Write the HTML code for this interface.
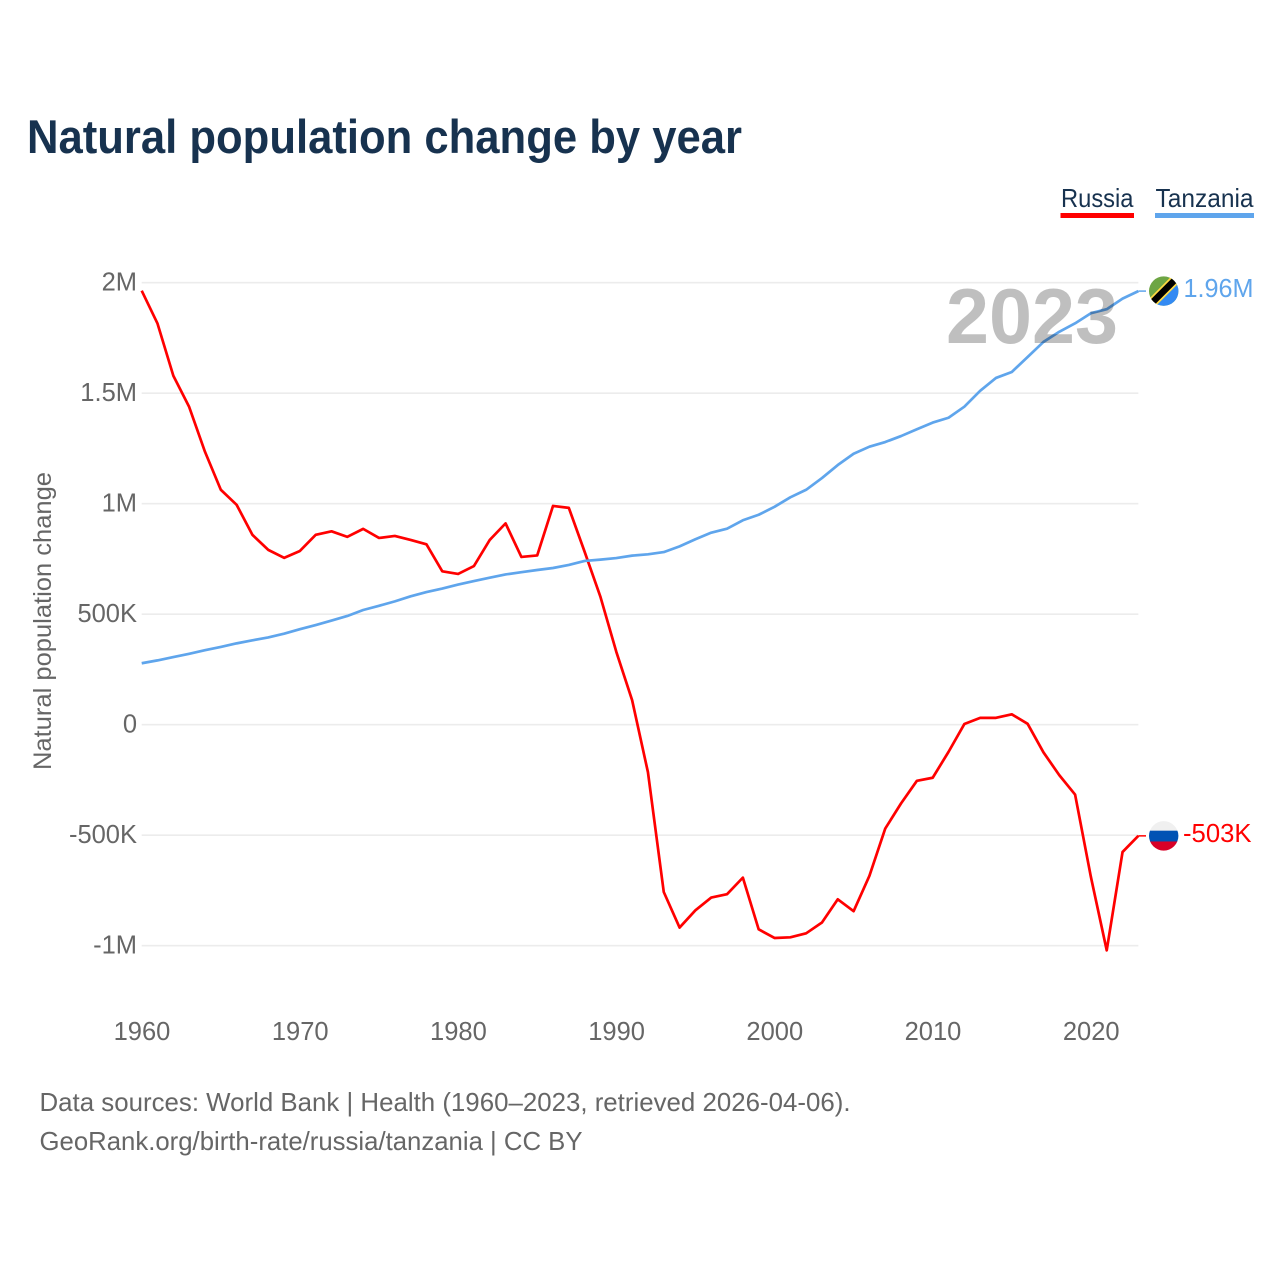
<!DOCTYPE html>
<html lang="en">
<head>
<meta charset="utf-8">
<title>Natural population change by year</title>
<style>
html,body{margin:0;padding:0;background:#fff;}
svg{display:block;}
text{font-family:"Liberation Sans",sans-serif;}
.tick{font-size:25.5px;fill:#666;}
</style>
</head>
<body>
<svg id="chart" xmlns="http://www.w3.org/2000/svg" width="1280" height="1280" viewBox="0 0 1280 1280">
  <rect width="1280" height="1280" fill="#fff"/>
  <text x="27" y="153" font-size="47" font-weight="700" fill="#17324f" textLength="715" lengthAdjust="spacingAndGlyphs">Natural population change by year</text>

  <g>
    <text x="1061" y="207" font-size="26" fill="#17324f" textLength="72.5" lengthAdjust="spacingAndGlyphs">Russia</text>
    <rect x="1060.5" y="213" width="73.5" height="5" fill="#ff0000"/>
  </g>
  <g>
    <text x="1155.5" y="207" font-size="26" fill="#17324f" textLength="98" lengthAdjust="spacingAndGlyphs">Tanzania</text>
    <rect x="1155" y="213" width="99" height="5" fill="#5fa5ec"/>
  </g>

  <text transform="translate(51 770) rotate(-90)" font-size="25" fill="#666" textLength="298" lengthAdjust="spacingAndGlyphs">Natural population change</text>

  <g id="grid"></g>
  <g id="yticks"></g>
  <g id="xticks"></g>
  <g id="series"></g>

  <text id="year-watermark" x="946" y="343" font-size="78" font-weight="700" fill="#000" fill-opacity="0.25" textLength="172" lengthAdjust="spacingAndGlyphs">2023</text>

  <defs>
    <clipPath id="clip-tz"><circle cx="0" cy="0" r="14.7"/></clipPath>
  </defs>

  <g id="flag-tanzania" clip-path="none">
    <g clip-path="url(#clip-tz)">
      <rect x="-16" y="-16" width="32" height="32" fill="#6da544"/>
      <polygon points="16,-16 16,16 -16,16" fill="#338af3"/>
      <line x1="-16" y1="16" x2="16" y2="-16" stroke="#ffda44" stroke-width="10"/>
      <line x1="-16" y1="16" x2="16" y2="-16" stroke="#000" stroke-width="6.5"/>
    </g>
  </g>
  <g id="flag-russia">
    <g clip-path="url(#clip-tz)">
      <rect x="-16" y="-16" width="32" height="11" fill="#f0f0f0"/>
      <rect x="-16" y="-5.2" width="32" height="11" fill="#0052b4"/>
      <rect x="-16" y="5.6" width="32" height="11" fill="#d80027"/>
    </g>
  </g>
  <text id="label-tanzania" x="1183.5" font-size="25.5" fill="#5fa5ec" textLength="70" lengthAdjust="spacingAndGlyphs"></text>
  <text id="label-russia" x="1183" font-size="25.5" fill="#ff0000" textLength="68.5" lengthAdjust="spacingAndGlyphs"></text>

  <text x="39.5" y="1111" font-size="26" fill="#666" textLength="811" lengthAdjust="spacingAndGlyphs">Data sources: World Bank | Health (1960–2023, retrieved 2026-04-06).</text>
  <text x="39.5" y="1150" font-size="26" fill="#666" textLength="543" lengthAdjust="spacingAndGlyphs">GeoRank.org/birth-rate/russia/tanzania | CC BY</text>
</svg>

<script>
const firstYear = 1960;
const russiaValues = [1964,1815,1579,1438,1235,1063,995,859,791,755,786,859,875,850,886,845,854,836,816,694,682,718,836,911,759,766,990,981,782,578,330,111,-215,-757,-918,-840,-782,-767,-692,-926,-965,-962,-944,-895,-790,-844,-684,-470,-356,-254,-240,-123,3,31,31,47,4,-125,-228,-316,-689,-1021,-576,-503];
const tanzaniaValues = [278,291,306,321,337,352,368,382,395,412,432,451,471,492,519,538,558,581,600,616,634,650,665,680,690,700,709,723,741,747,754,765,771,781,807,839,869,887,925,950,986,1029,1063,1116,1175,1226,1258,1279,1306,1337,1367,1389,1439,1511,1569,1596,1664,1732,1778,1816,1862,1880,1928,1962];
const yTickValues = [2000,1500,1000,500,0,-500,-1000];
const yTickLabels = ["2M","1.5M","1M","500K","0","-500K","-1M"];
const xTickYears = [1960,1970,1980,1990,2000,2010,2020];

const NS = "http://www.w3.org/2000/svg";
const xScale = function (year) { return 141.7 + (year - 1960) * 15.82; };
const yScale = function (v) { return 724.7 - v * 0.221; };
const lastYear = firstYear + russiaValues.length - 1;

function make(tag, parent) {
  const el = document.createElementNS(NS, tag);
  parent.appendChild(el);
  return el;
}

const gridGroup = document.getElementById("grid");
const yTickGroup = document.getElementById("yticks");
yTickValues.forEach(function (v, i) {
  const line = make("line", gridGroup);
  
  
  line.setAttribute("x1", xScale(firstYear));
  line.setAttribute("x2", xScale(lastYear));
  line.setAttribute("y1", yScale(v));
  line.setAttribute("y2", yScale(v));
  line.setAttribute("stroke", "#ececec");
  line.setAttribute("stroke-width", "1.6");

  const label = make("text", yTickGroup);
  
  
  label.setAttribute("class", "tick");
  label.setAttribute("x", 137);
  label.setAttribute("y", yScale(v) + 8);
  label.setAttribute("text-anchor", "end");
  label.textContent = yTickLabels[i];
});

const xTickGroup = document.getElementById("xticks");
xTickYears.forEach(function (year) {
  const label = make("text", xTickGroup);
  
  
  label.setAttribute("class", "tick");
  label.setAttribute("x", xScale(year) + 0.3);
  label.setAttribute("y", 1040);
  label.setAttribute("text-anchor", "middle");
  label.textContent = String(year);
});

function linePath(values) {
  return values.map(function (v, i) {
    return (i ? "L" : "M") + xScale(firstYear + i).toFixed(2) + " " + yScale(v).toFixed(2);
  }).join(" ");
}

function formatValue(v) {
  const abs = Math.abs(v);
  const sign = v < 0 ? "-" : "";
  if (abs >= 1000) return sign + (abs / 1000).toFixed(2) + "M";
  return sign + Math.round(abs) + "K";
}

const seriesGroup = document.getElementById("series");

const russiaLine = make("path", seriesGroup);


russiaLine.setAttribute("d", linePath(russiaValues));
russiaLine.setAttribute("fill", "none");
russiaLine.setAttribute("stroke", "#ff0000");
russiaLine.setAttribute("stroke-width", "2.7");
russiaLine.setAttribute("stroke-linejoin", "round");

const tanzaniaLine = make("path", seriesGroup);


tanzaniaLine.setAttribute("d", linePath(tanzaniaValues));
tanzaniaLine.setAttribute("fill", "none");
tanzaniaLine.setAttribute("stroke", "#5fa5ec");
tanzaniaLine.setAttribute("stroke-width", "2.7");
tanzaniaLine.setAttribute("stroke-linejoin", "round");

const russiaEnd = russiaValues[russiaValues.length - 1];
const tanzaniaEnd = tanzaniaValues[tanzaniaValues.length - 1];

const russiaStub = make("line", seriesGroup);


russiaStub.setAttribute("x1", xScale(lastYear));
russiaStub.setAttribute("x2", 1146);
russiaStub.setAttribute("y1", yScale(russiaEnd));
russiaStub.setAttribute("y2", yScale(russiaEnd));
russiaStub.setAttribute("stroke", "#ff0000");
russiaStub.setAttribute("stroke-width", "1.5");

const tanzaniaStub = make("line", seriesGroup);


tanzaniaStub.setAttribute("x1", xScale(lastYear));
tanzaniaStub.setAttribute("x2", 1146);
tanzaniaStub.setAttribute("y1", yScale(tanzaniaEnd));
tanzaniaStub.setAttribute("y2", yScale(tanzaniaEnd));
tanzaniaStub.setAttribute("stroke", "#5fa5ec");
tanzaniaStub.setAttribute("stroke-width", "1.5");

document.getElementById("flag-tanzania").setAttribute("transform", "translate(1163.7 " + yScale(tanzaniaEnd) + ")");
document.getElementById("flag-russia").setAttribute("transform", "translate(1163.7 " + yScale(russiaEnd) + ")");

const tanzaniaLabel = document.getElementById("label-tanzania");
tanzaniaLabel.setAttribute("y", yScale(tanzaniaEnd) + 6);
tanzaniaLabel.textContent = formatValue(tanzaniaEnd);

const russiaLabel = document.getElementById("label-russia");
russiaLabel.setAttribute("y", yScale(russiaEnd) + 6);
russiaLabel.textContent = formatValue(russiaEnd);

document.getElementById("year-watermark").textContent = String(lastYear);
</script>
</body>
</html>
